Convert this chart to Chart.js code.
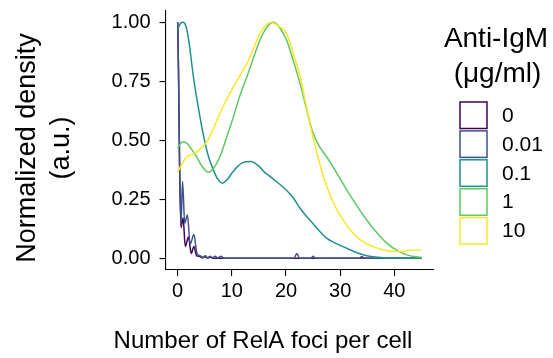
<!DOCTYPE html>
<html>
<head>
<meta charset="utf-8">
<script src="https://cdn.jsdelivr.net/npm/chart.js@4.4.1/dist/chart.umd.min.js"></script>
<style>
html,body{margin:0;padding:0;background:#fff;}
#wrap{width:553px;height:358px;position:relative;}
</style>
</head>
<body>
<div id="wrap"><canvas id="c" width="553" height="358"></canvas></div>
<script>
// ---- data ----
const seriesLabels = ['0', '0.01', '0.1', '1', '10'];
const seriesColors = ['#440154', '#3B528B', '#21908C', '#5DC863', '#FDE725'];

const x0 = [0, 0.15, 0.35, 0.6, 1.0, 1.4, 2.0, 2.5, 3.0, 3.5, 4.0, 4.5, 5.0, 5.5, 6.0, 6.5, 33.6, 34.0, 34.4, 45];
const y0 = [1.0, 0.8, 0.4, 0.13, 0.17, 0.05, 0.09, 0.02, 0.05, 0.01, 0.008, 0.002, 0.006, 0.001, 0.005, 0, 0, 0.006, 0, 0];

const x001 = [0, 0.15, 0.35, 0.6, 0.9, 1.3, 1.8, 2.3, 3.0, 3.5, 3.9, 4.2, 4.6, 5.1, 5.5, 6.0, 6.4, 6.9, 7.4, 8.0, 8.5, 21.5, 22.0, 22.5, 24.6, 25.0, 25.4, 45];
const y001 = [1.0, 0.8, 0.4, 0.14, 0.325, 0.148, 0.183, 0.06, 0.10, 0.025, 0.012, 0.01, 0.003, 0.01, 0.002, 0.008, 0.002, 0.008, 0.001, 0.008, 0, 0, 0.02, 0, 0, 0.008, 0, 0];

const x01 = [0, 0.5, 1.0, 1.5, 2.0, 2.9, 3.8, 4.8, 5.7, 6.6, 7.4, 8.3, 9.2, 10.0, 10.9, 12.0, 13.5, 15.0, 16.0, 17.1, 18.5, 20.0, 21.4, 22.5, 23.5, 24.4, 26.0, 27.5, 29.0, 31.2, 33.0, 34.9, 37, 40, 45];
const y01 = [0.97, 0.995, 1.0, 0.985, 0.93, 0.77, 0.64, 0.515, 0.43, 0.374, 0.335, 0.318, 0.335, 0.36, 0.385, 0.405, 0.41, 0.39, 0.365, 0.346, 0.32, 0.29, 0.254, 0.215, 0.185, 0.162, 0.12, 0.085, 0.065, 0.042, 0.024, 0.01, 0.004, 0.001, 0];

const x1 = [0, 0.5, 1.0, 1.8, 2.6, 3.5, 4.5, 5.7, 6.6, 7.8, 9.0, 10.3, 11.5, 12.8, 14.0, 15.2, 16.5, 17.7, 18.9, 20.1, 21.3, 22.6, 23.7, 24.8, 26.0, 27.5, 29.4, 31.2, 33.0, 34.9, 36.7, 38.6, 40.5, 42.3, 44, 45];
const y1 = [0.466, 0.485, 0.494, 0.485, 0.46, 0.43, 0.39, 0.364, 0.38, 0.43, 0.51, 0.6, 0.69, 0.77, 0.85, 0.925, 0.98, 1.0, 0.975, 0.925, 0.84, 0.74, 0.64, 0.544, 0.48, 0.43, 0.36, 0.29, 0.225, 0.162, 0.11, 0.064, 0.033, 0.014, 0.006, 0.004];

const x10 = [0, 0.8, 1.7, 2.6, 3.5, 4.5, 5.4, 6.6, 7.8, 9.0, 10.3, 11.5, 12.8, 14.0, 15.2, 16.2, 17.2, 18.2, 19.2, 20.1, 21.3, 22.6, 23.7, 24.8, 25.9, 26.9, 28.1, 29.4, 30.9, 32.4, 34.2, 36.1, 38, 39.8, 41, 42.3, 44, 45];
const y10 = [0.364, 0.40, 0.43, 0.44, 0.45, 0.47, 0.494, 0.55, 0.614, 0.67, 0.727, 0.775, 0.826, 0.89, 0.953, 0.985, 1.0, 0.99, 0.975, 0.953, 0.87, 0.77, 0.65, 0.53, 0.43, 0.346, 0.27, 0.205, 0.15, 0.106, 0.07, 0.049, 0.035, 0.028, 0.028, 0.032, 0.035, 0.034];

const xTickValues = [0, 10, 20, 30, 40];
const xTickLabels = ['0', '10', '20', '30', '40'];
const yTickValues = [0, 0.25, 0.5, 0.75, 1];
const yTickLabels = ['0.00', '0.25', '0.50', '0.75', '1.00'];

const xTitle = 'Number of RelA foci per cell';
const yTitleLines = ['Normalized density', '(a.u.)'];
const legendTitleLines = ['Anti-IgM', '(\u03bcg/ml)'];

// ---- build ----
const FONT = '"Liberation Sans", Arial, sans-serif';
const xsAll = [x0, x001, x01, x1, x10];
const ysAll = [y0, y001, y01, y1, y10];

const datasets = seriesLabels.map((lab, i) => ({
  label: lab,
  data: xsAll[i].map((x, j) => ({x: x, y: ysAll[i][j]})),
  borderColor: seriesColors[i],
  backgroundColor: seriesColors[i],
  borderWidth: 1.5,
  pointRadius: 0,
  fill: false,
  cubicInterpolationMode: 'monotone',
  order: seriesLabels.length - i
}));

const annotPlugin = {
  id: 'annot',
  afterDraw(chart) {
    const ctx = chart.ctx;
    ctx.save();
    ctx.fillStyle = '#000';
    // y title
    ctx.font = '27px ' + FONT;
    ctx.textAlign = 'center';
    ctx.textBaseline = 'middle';
    const yc = 148;
    ctx.save(); ctx.translate(28, yc); ctx.rotate(-Math.PI / 2); ctx.fillText(yTitleLines[0], 0, 0); ctx.restore();
    ctx.save(); ctx.translate(62, yc); ctx.rotate(-Math.PI / 2); ctx.fillText(yTitleLines[1], 0, 0); ctx.restore();
    // x title
    ctx.font = '24px ' + FONT;
    ctx.textBaseline = 'alphabetic';
    ctx.fillText(xTitle, 263, 348);
    // legend title
    ctx.font = '28px ' + FONT;
    ctx.fillText(legendTitleLines[0], 496, 46.5);
    ctx.fillText(legendTitleLines[1], 497.5, 82);
    // legend keys
    ctx.textAlign = 'left';
    ctx.textBaseline = 'middle';
    ctx.font = '21px ' + FONT;
    for (let i = 0; i < seriesLabels.length; i++) {
      const top = 102 + i * 28.9;
      ctx.fillStyle = '#fff';
      ctx.fillRect(460, top, 27, 26.5);
      ctx.strokeStyle = seriesColors[i];
      ctx.lineWidth = 1.5;
      ctx.strokeRect(460, top, 27, 26.5);
      ctx.fillStyle = '#000';
      ctx.fillText(seriesLabels[i], 502, top + 14);
    }
    ctx.restore();
  }
};

new Chart(document.getElementById('c'), {
  type: 'line',
  data: {datasets: datasets},
  options: {
    responsive: false,
    animation: false,
    events: [],
    layout: {padding: {left: 0, right: 119.4, top: 10.5, bottom: 0}},
    plugins: {legend: {display: false}, tooltip: {enabled: false}},
    scales: {
      x: {
        type: 'linear',
        min: -2.25,
        max: 47.25,
        afterBuildTicks(scale) { scale.ticks = xTickValues.map(v => ({value: v})); },
        afterFit(scale) { scale.height = 88; scale.paddingLeft = 0; scale.paddingRight = 0; },
        ticks: {
          color: '#000',
          font: {family: FONT, size: 20},
          padding: 3,
          maxRotation: 0,
          autoSkip: false,
          callback(v) { const k = xTickValues.indexOf(v); return k >= 0 ? xTickLabels[k] : ''; }
        },
        grid: {display: true, drawOnChartArea: false, drawTicks: true, tickLength: 6, color: '#000', lineWidth: 1.1},
        border: {display: true, color: '#000', width: 1.1}
      },
      y: {
        type: 'linear',
        min: -0.05,
        max: 1.05,
        afterBuildTicks(scale) { scale.ticks = yTickValues.map(v => ({value: v})); },
        afterFit(scale) { scale.width = 165.5; scale.paddingTop = 0; scale.paddingBottom = 0; },
        ticks: {
          color: '#000',
          font: {family: FONT, size: 20},
          padding: 9,
          autoSkip: false,
          callback(v) { const k = yTickValues.indexOf(v); return k >= 0 ? yTickLabels[k] : ''; }
        },
        grid: {display: true, drawOnChartArea: false, drawTicks: true, tickLength: 6, color: '#000', lineWidth: 1.1},
        border: {display: true, color: '#000', width: 1.1}
      }
    }
  },
  plugins: [annotPlugin]
});
</script>
</body>
</html>
